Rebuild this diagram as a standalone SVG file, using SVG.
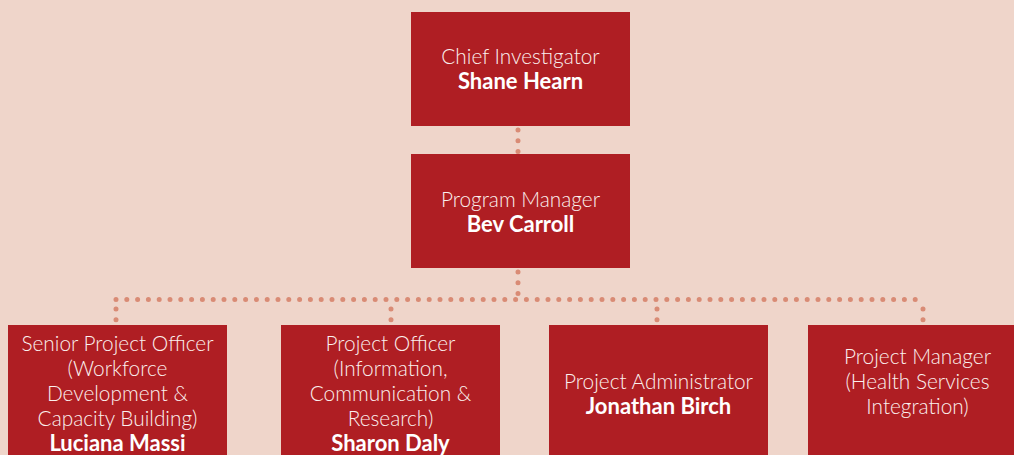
<svg xmlns="http://www.w3.org/2000/svg" width="1014" height="455" viewBox="0 0 1014 455">
<style>
.box{fill:#af1e23}
.t{font-family:Lato,"Liberation Sans",sans-serif;font-size:20.8px;fill:#fbf0ee;text-anchor:middle;font-weight:300}
.b{font-weight:700;fill:#ffffff;font-size:22px}
.dot{fill:none;stroke:#d98b75;stroke-width:5;stroke-linecap:round;stroke-dasharray:0 10.8}
</style>
<rect width="1014" height="455" fill="#efd5ca"/>
<g id="connectors">
<line class="dot" x1="518" y1="130" x2="518" y2="152"/>
<line class="dot" x1="518" y1="272" x2="518" y2="299.5"/>
<line class="dot" x1="116" y1="299.5" x2="923" y2="299.5"/>
<line class="dot" x1="116" y1="309" x2="116" y2="322"/>
<line class="dot" x1="391" y1="309" x2="391" y2="322"/>
<line class="dot" x1="657" y1="309" x2="657" y2="322"/>
<line class="dot" x1="923" y1="309" x2="923" y2="322"/>
</g>
<g id="chief">
<rect class="box" x="411" y="12" width="219" height="114"/>
<text class="t" x="520.5" y="64">Chief Investigator</text>
<text class="t b" x="520.5" y="89">Shane Hearn</text>
</g>
<g id="program-manager">
<rect class="box" x="411" y="154" width="219" height="114"/>
<text class="t" x="520.5" y="207">Program Manager</text>
<text class="t b" x="520.5" y="232">Bev Carroll</text>
</g>
<g id="senior-project-officer">
<rect class="box" x="8" y="325" width="219" height="140"/>
<text class="t" x="117.5" y="351">Senior Project Officer</text>
<text class="t" x="117.5" y="376">(Workforce</text>
<text class="t" x="117.5" y="401">Development &amp;</text>
<text class="t" x="117.5" y="426">Capacity Building)</text>
<text class="t b" x="117.5" y="451">Luciana Massi</text>
</g>
<g id="project-officer">
<rect class="box" x="281" y="325" width="219" height="140"/>
<text class="t" x="390.5" y="351">Project Officer</text>
<text class="t" x="390.5" y="376">(Information,</text>
<text class="t" x="390.5" y="401">Communication &amp;</text>
<text class="t" x="390.5" y="426">Research)</text>
<text class="t b" x="390.5" y="451">Sharon Daly</text>
</g>
<g id="project-administrator">
<rect class="box" x="549" y="325" width="219" height="140"/>
<text class="t" x="658.5" y="389">Project Administrator</text>
<text class="t b" x="658.5" y="414">Jonathan Birch</text>
</g>
<g id="project-manager">
<rect class="box" x="808" y="325" width="219" height="140"/>
<text class="t" x="917.5" y="364">Project Manager</text>
<text class="t" x="917.5" y="389">(Health Services</text>
<text class="t" x="917.5" y="414">Integration)</text>
</g>
</svg>
